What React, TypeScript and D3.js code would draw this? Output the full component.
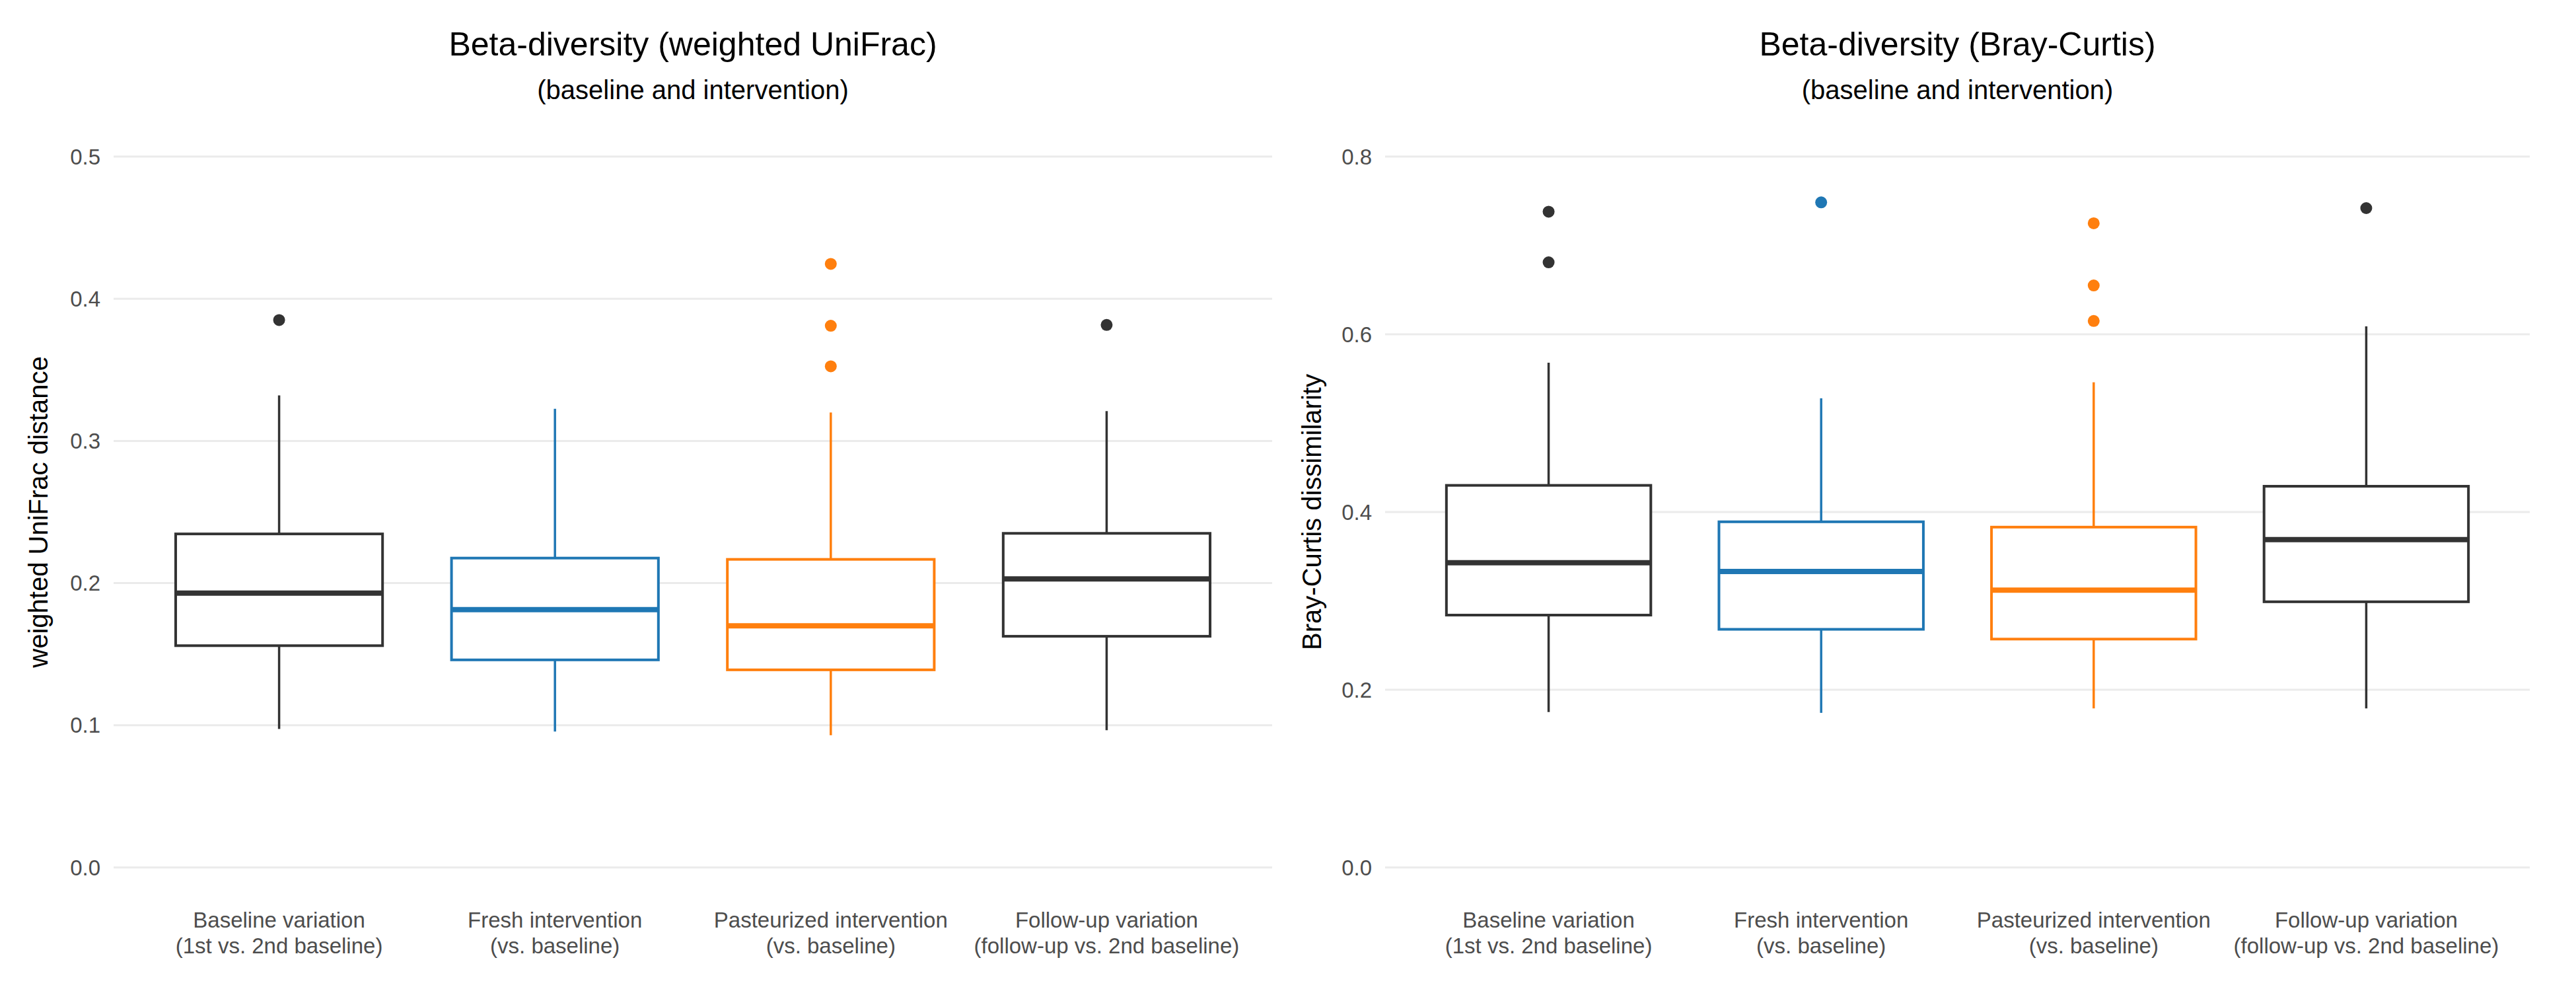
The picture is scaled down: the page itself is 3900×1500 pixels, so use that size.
import React from "react";
import * as d3 from "d3";

const categories = [
  "Baseline variation\n(1st vs. 2nd baseline)",
  "Fresh intervention\n(vs. baseline)",
  "Pasteurized intervention\n(vs. baseline)",
  "Follow-up variation\n(follow-up vs. 2nd baseline)",
];
const colors = ["#333333", "#1f77b4", "#ff7f0e", "#333333"];

// [lowWhisker, Q1, median, Q3, highWhisker]
const unifracStats = [
  [0.0974, 0.156, 0.193, 0.2346, 0.332],
  [0.0956, 0.146, 0.1814, 0.2176, 0.3226],
  [0.093, 0.139, 0.17, 0.2167, 0.32],
  [0.0965, 0.1626, 0.203, 0.235, 0.321],
];
const unifracOutliers = [[0.385], [], [0.4245, 0.381, 0.3525], [0.3816]];
const unifracTicks = [0, 0.1, 0.2, 0.3, 0.4, 0.5];

const brayStats = [
  [0.175, 0.284, 0.343, 0.43, 0.568],
  [0.174, 0.268, 0.333, 0.389, 0.528],
  [0.179, 0.257, 0.312, 0.383, 0.546],
  [0.179, 0.299, 0.369, 0.429, 0.609],
];
const brayOutliers = [[0.738, 0.681], [0.7485], [0.725, 0.655, 0.615], [0.742]];
const brayTicks = [0, 0.2, 0.4, 0.6, 0.8];

const FONT = "'Liberation Sans Narrow', 'Liberation Sans', Arial, sans-serif";

function Panel({ x0, x1, title, ytitle, ytitleX, stats, outliers, ticks, ymax }: any) {
  const y = d3.scaleLinear().domain([0, ymax]).range([1313, 237]);
  const xl = d3.scaleLinear().domain([0.4, 4.6]).range([x0, x1]);
  const bw = (xl(2) - xl(1)) * 0.75;
  const cx = (i: number) => xl(i + 1);
  const mid = (x0 + x1) / 2;
  return (
    <g>
      <text x={mid} y={84} textAnchor="middle" fontSize={50} fontFamily={FONT}>{title}</text>
      <text x={mid} y={150} textAnchor="middle" fontSize={40} fontFamily={FONT}>(baseline and intervention)</text>
      {ticks.map((t: number) => (
        <g key={t}>
          <line x1={x0} x2={x1} y1={y(t)} y2={y(t)} stroke="#ebebeb" strokeWidth={3} />
          <text x={x0 - 20} y={y(t)} dy="0.35em" textAnchor="end" fontSize={33} fill="#4d4d4d" fontFamily={FONT}>{t.toFixed(1)}</text>
        </g>
      ))}
      <text transform={`translate(${ytitleX},${y(ymax / 2)}) rotate(-90)`} textAnchor="middle" fontSize={40} fontFamily="'Liberation Sans', Arial, sans-serif">{ytitle}</text>
      {stats.map((s: number[], i: number) => {
        const c = colors[i];
        const X = cx(i);
        return (
          <g key={i}>
            <line x1={X} x2={X} y1={y(s[3])} y2={y(s[4])} stroke={c} strokeWidth={3.5} />
            <line x1={X} x2={X} y1={y(s[1])} y2={y(s[0])} stroke={c} strokeWidth={3.5} />
            <rect x={X - bw / 2} y={y(s[3])} width={bw} height={y(s[1]) - y(s[3])} fill="white" stroke={c} strokeWidth={4} />
            <line x1={X - bw / 2} x2={X + bw / 2} y1={y(s[2])} y2={y(s[2])} stroke={c} strokeWidth={8} />
            {outliers[i].map((o: number, j: number) => (
              <circle key={j} cx={X} cy={y(o)} r={9} fill={c} />
            ))}
            {categories[i].split("\n").map((ln, k) => (
              <text key={k} x={X} y={1404 + k * 39} textAnchor="middle" fontSize={33} fill="#4d4d4d" fontFamily={FONT}>{ln}</text>
            ))}
          </g>
        );
      })}
    </g>
  );
}

export default function App() {
  return (
    <svg width={3900} height={1500} style={{ position: "absolute", left: 0, top: 0, background: "white" }}>
      <rect width={3900} height={1500} fill="white" />
      <Panel x0={172} x1={1926} title="Beta-diversity (weighted UniFrac)" ytitle="weighted UniFrac distance" ytitleX={72}
        stats={unifracStats} outliers={unifracOutliers} ticks={unifracTicks} ymax={0.5} />
      <Panel x0={2097} x1={3830} title="Beta-diversity (Bray-Curtis)" ytitle="Bray-Curtis dissimilarity" ytitleX={2000}
        stats={brayStats} outliers={brayOutliers} ticks={brayTicks} ymax={0.8} />
    </svg>
  );
}
